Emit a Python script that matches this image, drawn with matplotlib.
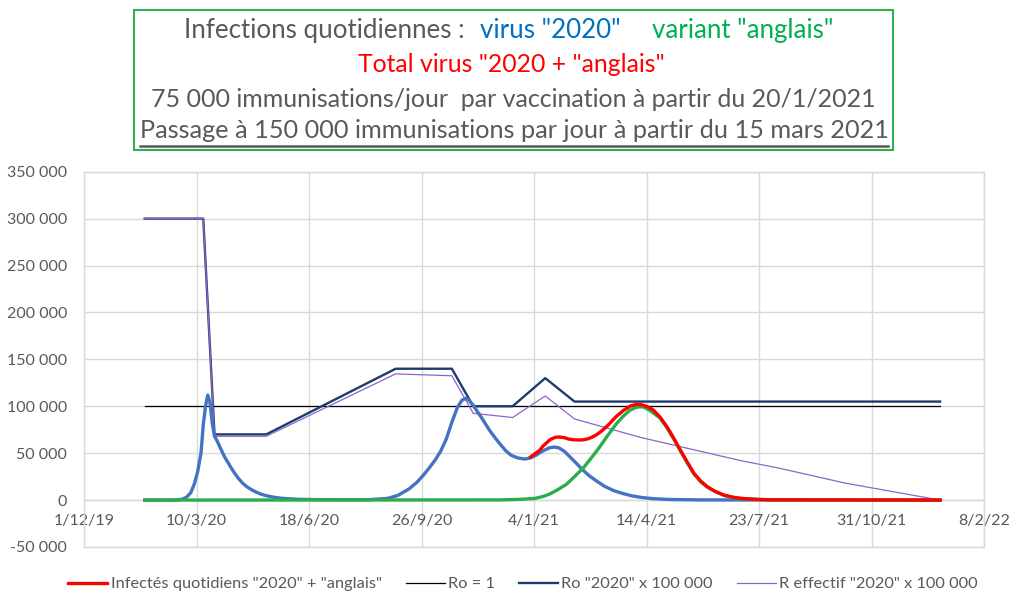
import matplotlib
matplotlib.use("Agg")
import matplotlib.pyplot as plt
import pandas as pd
from matplotlib.ticker import FuncFormatter
from matplotlib.lines import Line2D
from matplotlib.patches import Rectangle

# ---------------- data ----------------
blue_dates = ["2020-01-24", "2020-02-20", "2020-02-26", "2020-03-01", "2020-03-05", "2020-03-08",
              "2020-03-11", "2020-03-14", "2020-03-16", "2020-03-18", "2020-03-20", "2020-03-22",
              "2020-03-24", "2020-03-26", "2020-03-28", "2020-03-31", "2020-04-02", "2020-04-04",
              "2020-04-07", "2020-04-10", "2020-04-13", "2020-04-16", "2020-04-20", "2020-04-24",
              "2020-04-28", "2020-05-02", "2020-05-06", "2020-05-10", "2020-05-17", "2020-05-24",
              "2020-06-01", "2020-06-10", "2020-06-25", "2020-07-16", "2020-08-10", "2020-08-27",
              "2020-09-05", "2020-09-15", "2020-09-22", "2020-09-28", "2020-10-03", "2020-10-08",
              "2020-10-13", "2020-10-18", "2020-10-23", "2020-10-28", "2020-11-01", "2020-11-04",
              "2020-11-07", "2020-11-11", "2020-11-14", "2020-11-18", "2020-11-22", "2020-11-26",
              "2020-12-01", "2020-12-05", "2020-12-10", "2020-12-15", "2020-12-21", "2020-12-27",
              "2021-01-01", "2021-01-06", "2021-01-12", "2021-01-18", "2021-01-22", "2021-01-26",
              "2021-01-31", "2021-02-05", "2021-02-10", "2021-02-16", "2021-02-22", "2021-03-01",
              "2021-03-08", "2021-03-16", "2021-03-24", "2021-04-01", "2021-04-10", "2021-04-20",
              "2021-05-05", "2021-06-01", "2021-12-31"]
blue_values = [0, 0, 800, 3000, 8000, 17000,
               30000, 50000, 80000, 100000, 112000, 104000,
               82000, 68000, 64000, 56000, 51000, 46000,
               40000, 34000, 28500, 23500, 18000, 14000,
               11000, 8500, 6500, 5000, 3200, 2000,
               1300, 800, 500, 400, 400, 1800,
               5000, 12000, 19000, 27000, 34500, 42500,
               52000, 65000, 83000, 99000, 106500, 108500,
               106500, 101000, 95500, 88500, 81000, 73500,
               65500, 59500, 52500, 47500, 44800, 43700,
               45000, 48000, 52500, 55800, 56500, 55700,
               52000, 46000, 40000, 32500, 26000, 20000,
               14500, 10000, 7000, 4500, 2700, 1500,
               600, 200, 0]

green_dates = ["2020-01-24", "2020-12-05", "2020-12-23", "2021-01-05", "2021-01-12", "2021-01-18",
               "2021-01-25", "2021-02-02", "2021-02-09", "2021-02-17", "2021-02-24", "2021-03-03",
               "2021-03-10", "2021-03-18", "2021-03-24", "2021-03-30", "2021-04-04", "2021-04-08",
               "2021-04-12", "2021-04-17", "2021-04-26", "2021-05-02", "2021-05-08", "2021-05-14",
               "2021-05-20", "2021-05-26", "2021-06-01", "2021-06-07", "2021-06-14", "2021-06-22",
               "2021-06-30", "2021-07-07", "2021-08-01", "2021-12-31"]
green_values = [0, 200, 800, 1800, 3800, 6500,
                11000, 17000, 25000, 34500, 45000, 56000,
                68000, 81000, 89000, 95500, 98500, 99500,
                99000, 95500, 87500, 77500, 65500, 52700,
                40200, 28200, 19800, 13800, 9000, 5000,
                2800, 1700, 300, 0]

red_dates = ["2021-01-01", "2021-01-05", "2021-01-09", "2021-01-12", "2021-01-16", "2021-01-19",
             "2021-01-23", "2021-01-26", "2021-01-31", "2021-02-04", "2021-02-08", "2021-02-13",
             "2021-02-17", "2021-02-21", "2021-02-25", "2021-03-01", "2021-03-05", "2021-03-11",
             "2021-03-18", "2021-03-25", "2021-03-31", "2021-04-05", "2021-04-10", "2021-04-15",
             "2021-04-20", "2021-04-26", "2021-05-02", "2021-05-08", "2021-05-14", "2021-05-20",
             "2021-05-26", "2021-06-01", "2021-06-07", "2021-06-14", "2021-06-22", "2021-06-30",
             "2021-07-07", "2021-07-20", "2021-08-01", "2021-12-31"]
red_values = [46000, 49500, 53000, 57500, 62000, 65000,
              66800, 67300, 66500, 65000, 64300, 64000,
              64300, 65300, 67300, 70000, 73500, 80000,
              89000, 96000, 100500, 102000, 101500, 99500,
              96000, 88500, 78500, 66500, 53500, 41000,
              28800, 20500, 14300, 9300, 5300, 3000,
              1800, 700, 300, 0]

ro_dates = ["2020-01-24", "2020-03-16", "2020-03-26", "2020-05-11", "2020-09-03", "2020-10-23",
            "2020-11-11", "2020-12-16", "2021-01-14", "2021-02-09", "2021-12-31"]
ro_values = [300000, 300000, 70000, 70000, 140000, 140000,
             100000, 100000, 130000, 105000, 105000]

reff_dates = ["2020-01-24", "2020-03-16", "2020-03-26", "2020-05-11", "2020-09-03", "2020-10-23",
              "2020-11-11", "2020-12-16", "2021-01-14", "2021-02-09", "2021-04-08", "2021-07-07",
              "2021-08-10", "2021-10-08", "2021-12-31"]
reff_values = [300000, 300000, 68000, 68000, 134500, 132500,
               92500, 88000, 111000, 86500, 67000, 42000,
               34000, 18000, 0]

ro1_dates = ["2020-01-24", "2021-12-31"]
ro1_values = [100000, 100000]

xtick_dates = ["2019-12-01", "2020-03-10", "2020-06-18", "2020-09-26", "2021-01-04",
               "2021-04-14", "2021-07-23", "2021-10-31", "2022-02-08"]
xtick_labels = ["1/12/19", "10/3/20", "18/6/20", "26/9/20", "4/1/21",
                "14/4/21", "23/7/21", "31/10/21", "8/2/22"]
ytick_values = [-50000, 0, 50000, 100000, 150000, 200000, 250000, 300000, 350000]

legend_labels = ['Infectés quotidiens "2020" + "anglais"', 'Ro = 1',
                 'Ro "2020" x 100 000', 'R effectif "2020" x 100 000']

# ---------------- styling ----------------
plt.rcParams['font.family'] = ['Lato', 'DejaVu Sans']
GRAY_TXT = '#595959'
GRID = '#D9D9D9'
C_RED = '#FF0000'
C_BLUE = '#4472C4'
C_GREEN = '#2BAE4A'
C_NAVY = '#1F3A6E'
C_PURPLE = '#8B66C9'

W, H = 1024, 610
fig = plt.figure(figsize=(W / 100, H / 100), dpi=100)
ax = fig.add_axes([84 / W, 1 - 547 / H, 900 / W, (547 - 171.7) / H])

td = pd.to_datetime
ax.plot(td(ro1_dates), ro1_values, color='black', lw=0.9, zorder=3)
ax.plot(td(ro_dates), ro_values, color=C_NAVY, lw=1.7, zorder=4)
ax.plot(td(reff_dates), reff_values, color=C_PURPLE, lw=0.9, zorder=5)
ax.plot(td(blue_dates), blue_values, color=C_BLUE, lw=2.4, zorder=6, solid_joinstyle='round')
ax.plot(td(green_dates), green_values, color=C_GREEN, lw=2.4, zorder=7, solid_joinstyle='round')
ax.plot(td(red_dates), red_values, color=C_RED, lw=2.4, zorder=8, solid_joinstyle='round')

ax.set_xlim(td(xtick_dates[0]), td(xtick_dates[-1]))
ax.set_ylim(ytick_values[0], ytick_values[-1])
ax.set_xticks(td(xtick_dates))
ax.set_xticklabels(xtick_labels)
ax.set_yticks(ytick_values)
ax.yaxis.set_major_formatter(FuncFormatter(lambda v, p: f"{v:,.0f}".replace(",", " ")))

ax.grid(True, color=GRID, lw=1.0, zorder=0)
ax.set_axisbelow(True)
for s in ['left', 'right', 'top']:
    ax.spines[s].set_color(GRID)
    ax.spines[s].set_linewidth(1.0)
ax.spines['bottom'].set_position(('data', 0))
ax.spines['bottom'].set_color(GRID)
ax.spines['bottom'].set_linewidth(1.0)
ax.plot([0, 1], [0, 0], transform=ax.transAxes, color=GRID, lw=1.0, clip_on=False, zorder=1)

ax.tick_params(axis='both', length=0, labelcolor=GRAY_TXT, labelsize=11.5)
ax.tick_params(axis='y', pad=12)
ax.tick_params(axis='x', pad=10)

# legend
handles = [Line2D([], [], color=C_RED, lw=2.4),
           Line2D([], [], color='black', lw=0.9),
           Line2D([], [], color=C_NAVY, lw=1.7),
           Line2D([], [], color=C_PURPLE, lw=0.9)]
leg = fig.legend(handles, legend_labels, ncol=4, loc='center',
                 bbox_to_anchor=(523 / W, 1 - 584 / H), frameon=False, fontsize=11.8,
                 handlelength=2.4, handletextpad=0.2, columnspacing=1.45,
                 labelcolor=GRAY_TXT)

# ---------------- title box ----------------
fig.add_artist(Rectangle((134 / W, 1 - 150 / H), (893 - 134) / W, 140 / H,
                         transform=fig.transFigure, fill=False,
                         edgecolor='#2EB04F', lw=1.5))

renderer = fig.canvas.get_renderer()


def fit(t, target_px):
    w = t.get_window_extent(renderer).width
    t.set_fontsize(t.get_fontsize() * target_px / w)


def fx(px):
    return px / W


def fy(py):
    return 1 - py / H


t1a = fig.text(fx(184), fy(38.3), 'Infections quotidiennes :', color=GRAY_TXT,
               fontsize=16, ha='left', va='baseline')
fit(t1a, 280)
fs1 = t1a.get_fontsize()
fig.text(fx(480), fy(38.3), 'virus "2020"', color='#0070C0', fontsize=fs1, ha='left', va='baseline')
fig.text(fx(652), fy(38.3), 'variant "anglais"', color='#00B050', fontsize=fs1, ha='left', va='baseline')

t2 = fig.text(fx(511), fy(71.7), 'Total virus "2020 + "anglais"', color=C_RED,
              fontsize=16, ha='center', va='baseline')
fit(t2, 308)
t3 = fig.text(fx(513), fy(106.7), '75 000 immunisations/jour  par vaccination à partir du 20/1/2021',
              color=GRAY_TXT, fontsize=16, ha='center', va='baseline')
fit(t3, 732)
t4 = fig.text(fx(514), fy(138.3), 'Passage à 150 000 immunisations par jour à partir du 15 mars 2021',
              color=GRAY_TXT, fontsize=16, ha='center', va='baseline')
fit(t4, 751)
bb = t4.get_window_extent(renderer)
fig.add_artist(Line2D([bb.x0 / W, bb.x1 / W], [fy(145.5), fy(145.5)], transform=fig.transFigure,
                      color=GRAY_TXT, lw=1.8))

fig.savefig('out.png', dpi=100)
